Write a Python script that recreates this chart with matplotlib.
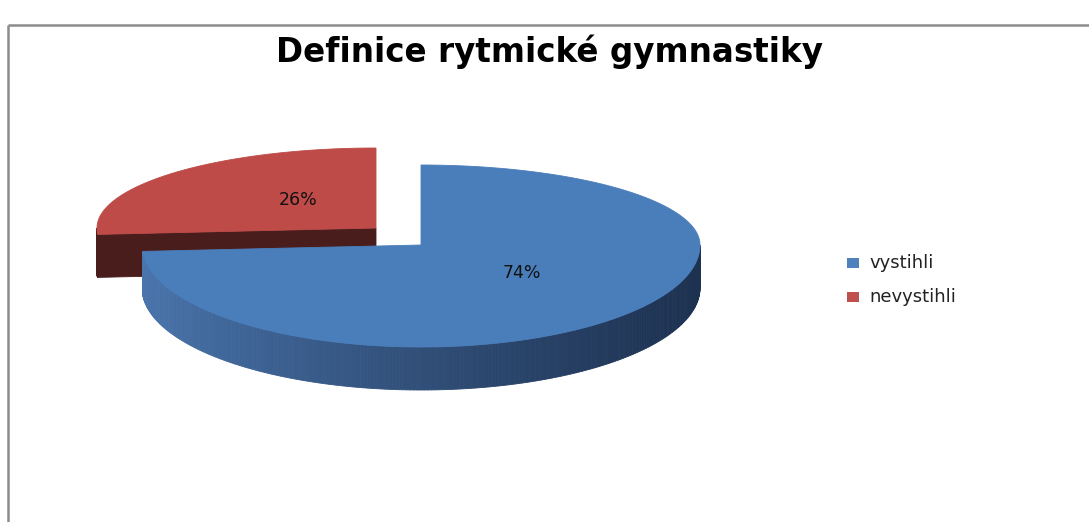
import numpy as np
import matplotlib
matplotlib.use('Agg')
import matplotlib.pyplot as plt
from matplotlib.patches import Polygon, Rectangle
from matplotlib.colors import to_rgb

# data
title = 'Definice rytmické gymnastiky'
categories = ['vystihli', 'nevystihli']
shares = [74, 26]
labels = ['74%', '26%']

top_colors = ['#4a7ebb', '#be4b48']
legend_colors = ['#4f81bd', '#c0504d']
cut_color = '#4a1d1d'
wall_light = '#4a76ae'
wall_dark = '#1d3150'

W, H = 1089, 522
fig = plt.figure(figsize=(W / 100, H / 100), dpi=100)
ax = fig.add_axes([0, 0, 1, 1])
ax.set_xlim(0, W)
ax.set_ylim(H, 0)
ax.axis('off')

# pie geometry in pixels (fake 3d: back half flatter than front half)
RX = 279
RYB = 80    # back radius
RYF = 102   # front radius
DEPTH = 43
centers = [(421, 245), (376, 228)]   # second slice is pulled out


def rim(c, t):
    s = np.sin(t)
    ry = np.where(s > 0, RYB, RYF)
    return c[0] + RX * np.cos(t), c[1] - ry * s


def arc(t1, t2, n=200):
    return np.linspace(np.radians(t1), np.radians(t2), n)


# slice angles, clockwise from 12 o'clock
total = float(sum(shares))
starts, ends = [], []
a = 90.0
for v in shares:
    starts.append(a)
    a -= 360.0 * v / total
    ends.append(a)

c1, c2 = np.array(to_rgb(wall_light)), np.array(to_rgb(wall_dark))
order = [1, 0]  # draw the pulled out slice (behind) first
for i in order:
    c = centers[i]
    t1, t2 = starts[i], ends[i]

    # cut face of the pulled-out slice (facing the viewer)
    if i == 1:
        ex, ey = rim(c, np.radians(t1))
        quad = [(c[0], c[1]), (ex, ey), (ex, ey + DEPTH), (c[0], c[1] + DEPTH)]
        ax.add_patch(Polygon(quad, closed=True, facecolor=cut_color,
                             edgecolor=cut_color, lw=0.6))

    # front outer wall with a left->right shading
    lo, hi = max(t2, -180.0), min(t1, 0.0)
    if hi > lo:
        tt = arc(lo, hi, 240)
        xs, ys = rim(c, tt)
        for k in range(len(tt) - 1):
            if i == 1:
                col = to_rgb(cut_color)
            else:
                f = np.clip((xs[k] - (c[0] - RX)) / (2 * RX), 0, 1)
                col = c1 + (c2 - c1) * f ** 0.8
            quad = [(xs[k], ys[k]), (xs[k + 1], ys[k + 1]),
                    (xs[k + 1], ys[k + 1] + DEPTH), (xs[k], ys[k] + DEPTH)]
            ax.add_patch(Polygon(quad, closed=True, facecolor=col,
                                 edgecolor=col, lw=0.6))

    # top face
    tt = arc(t1, t2, 300)
    xs, ys = rim(c, tt)
    pts = [(c[0], c[1])] + list(zip(xs, ys))
    ax.add_patch(Polygon(pts, closed=True, facecolor=top_colors[i],
                         edgecolor=top_colors[i], lw=0.6))

# data labels
for i, f in [(0, 0.48), (1, 0.40)]:
    mid = np.radians((starts[i] + ends[i]) / 2)
    lx, ly = rim(centers[i], mid)
    lx = centers[i][0] + (lx - centers[i][0]) * f
    ly = centers[i][1] + (ly - centers[i][1]) * f - 6
    ax.text(lx + 3, ly, labels[i], ha='center', va='center', fontsize=12.5,
            family='DejaVu Sans', color='#111111')

# title
ax.text(549, 52, title, ha='center', va='center', fontsize=23.5,
        fontweight='bold', family='DejaVu Sans', color='black')

# legend
for k, (name, col) in enumerate(zip(categories, legend_colors)):
    y = 263 + k * 34
    ax.add_patch(Rectangle((847, y - 5), 12, 10, facecolor=col, edgecolor='none'))
    ax.text(869, y, name, ha='left', va='center', fontsize=13,
            family='DejaVu Sans', color='#222222')

# chart frame (only top and left visible)
ax.plot([8, W], [25, 25], color='#8c8c8c', lw=1.8, solid_capstyle='butt')
ax.plot([8, 8], [25, H], color='#8c8c8c', lw=1.8, solid_capstyle='butt')

fig.savefig('out.png', dpi=100)
